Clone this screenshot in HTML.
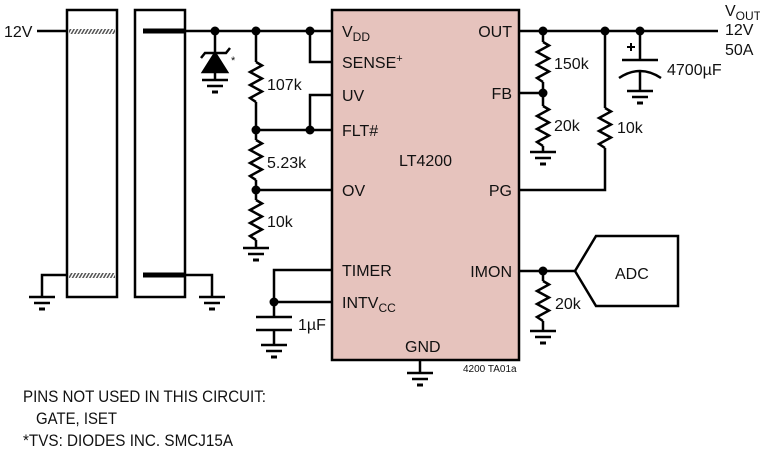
<!DOCTYPE html>
<html><head><meta charset="utf-8"><style>
html,body{margin:0;padding:0;background:#fff;}
svg{display:block}
text{font-family:"Liberation Sans Narrow","Liberation Sans",sans-serif;fill:#111}
</style></head><body>
<svg width="760" height="451" viewBox="0 0 760 451" xmlns="http://www.w3.org/2000/svg">
<defs>
<pattern id="h" width="3" height="6" patternUnits="userSpaceOnUse" patternTransform="rotate(30)"><rect width="1.5" height="6" fill="#555"/></pattern>
<g id="gnd" stroke="#000" stroke-width="2.5" fill="none"><line x1="-13" y1="0" x2="13" y2="0"/><line x1="-8" y1="6" x2="8" y2="6"/><line x1="-3" y1="12" x2="3" y2="12" stroke-width="3"/></g>
<path id="res" d="M0,0 L6,3.5 L-6,10 L6,16.5 L-6,23 L6,29.5 L-6,36 L0,40" stroke="#000" stroke-width="2.5" fill="none"/>
</defs>
<g stroke="#000" stroke-width="2.5" fill="none">
<rect x="67" y="10" width="50" height="287"/>
<rect x="135" y="10" width="50" height="287"/>
<rect x="69" y="29" width="46" height="5" fill="url(#h)" stroke="none"/>
<rect x="69" y="273" width="46" height="5" fill="url(#h)" stroke="none"/>
<line x1="37" y1="31" x2="67" y2="31"/>
<line x1="143" y1="31" x2="185" y2="31" stroke-width="5"/>
<line x1="143" y1="275" x2="185" y2="275" stroke-width="5"/>
<polyline points="67,275 42,275 42,297"/>
<polyline points="185,275 212,275 212,297"/>
<line x1="185" y1="31" x2="332" y2="31"/>
<polyline points="310,31 310,62 332,62"/>
<line x1="256" y1="31" x2="256" y2="62"/>
<line x1="256" y1="102" x2="256" y2="140"/>
<line x1="256" y1="130" x2="332" y2="130"/>
<polyline points="310,130 310,95 332,95"/>
<line x1="256" y1="180" x2="256" y2="200"/>
<line x1="256" y1="190" x2="332" y2="190"/>
<line x1="256" y1="240" x2="256" y2="248"/>
<line x1="215" y1="31" x2="215" y2="80"/>
<polyline points="201,58 205,53 226,53 230,48"/>
<polygon points="215,53 203,72 227,72" fill="#000"/>
<line x1="519" y1="31" x2="718" y2="31"/>
<line x1="543" y1="31" x2="543" y2="42"/>
<line x1="543" y1="82" x2="543" y2="106"/>
<line x1="519" y1="93" x2="543" y2="93"/>
<line x1="543" y1="146" x2="543" y2="152"/>
<line x1="605" y1="31" x2="605" y2="108"/>
<polyline points="605,148 605,190 519,190"/>
<line x1="640" y1="31" x2="640" y2="60"/>
<line x1="622" y1="60" x2="658" y2="60"/>
<path d="M619,78 Q640,64 661,78"/>
<line x1="640" y1="70" x2="640" y2="91"/>
<line x1="627" y1="47" x2="635" y2="47" stroke-width="2"/><line x1="631" y1="43" x2="631" y2="51" stroke-width="2"/>
<line x1="519" y1="271" x2="575" y2="271"/>
<line x1="543" y1="271" x2="543" y2="281"/>
<line x1="543" y1="321" x2="543" y2="331"/>
<polygon points="575,271 596,236 678,236 678,306 596,306"/>
<polyline points="332,270 274,270 274,317"/>
<line x1="274" y1="302" x2="332" y2="302"/>
<line x1="256" y1="317" x2="292" y2="317"/>
<line x1="256" y1="330" x2="292" y2="330"/>
<line x1="274" y1="330" x2="274" y2="345"/>
<line x1="420" y1="360" x2="420" y2="373"/>
</g>
<rect x="332" y="10" width="187" height="350" fill="#e6c3bd" stroke="#000" stroke-width="2.5"/>
<use href="#res" x="256" y="62"/>
<use href="#res" x="256" y="140"/>
<use href="#res" x="256" y="200"/>
<use href="#res" x="543" y="42"/>
<use href="#res" x="543" y="106"/>
<use href="#res" x="605" y="108"/>
<use href="#res" x="543" y="281"/>
<use href="#gnd" x="42" y="297"/>
<use href="#gnd" x="212" y="297"/>
<use href="#gnd" x="215" y="80"/>
<use href="#gnd" x="256" y="248"/>
<use href="#gnd" x="543" y="152"/>
<use href="#gnd" x="640" y="91"/>
<use href="#gnd" x="543" y="331"/>
<use href="#gnd" x="274" y="345"/>
<use href="#gnd" x="420" y="373"/>
<g fill="#000">
<circle cx="215" cy="31" r="4.5"/><circle cx="256" cy="31" r="4.5"/><circle cx="310" cy="31" r="4.5"/>
<circle cx="256" cy="130" r="4.5"/><circle cx="310" cy="130" r="4.5"/><circle cx="256" cy="190" r="4.5"/>
<circle cx="543" cy="31" r="4.5"/><circle cx="605" cy="31" r="4.5"/><circle cx="640" cy="31" r="4.5"/>
<circle cx="543" cy="93" r="4.5"/><circle cx="543" cy="271" r="4.5"/><circle cx="274" cy="302" r="4.5"/>
</g>
<g font-size="16">
<text x="4" y="37">12V</text>
<text x="231" y="64" font-size="11">*</text>
<text x="267" y="90">107k</text>
<text x="267" y="168">5.23k</text>
<text x="267" y="227">10k</text>
<text x="342" y="37">V<tspan font-size="12" dy="4">DD</tspan></text>
<text x="342" y="68">SENSE<tspan font-size="11" dy="-6">+</tspan></text>
<text x="342" y="101">UV</text>
<text x="342" y="136">FLT#</text>
<text x="399" y="166">LT4200</text>
<text x="342" y="196">OV</text>
<text x="342" y="276">TIMER</text>
<text x="342" y="308">INTV<tspan font-size="12" dy="4">CC</tspan></text>
<text x="405" y="352">GND</text>
<text x="512" y="37" text-anchor="end">OUT</text>
<text x="512" y="99" text-anchor="end">FB</text>
<text x="512" y="196" text-anchor="end">PG</text>
<text x="512" y="277" text-anchor="end">IMON</text>
<text x="554" y="69">150k</text>
<text x="554" y="131">20k</text>
<text x="617" y="133">10k</text>
<text x="667" y="75">4700µF</text>
<text x="725" y="16">V<tspan font-size="12" dy="4">OUT</tspan></text>
<text x="725" y="35">12V</text>
<text x="725" y="55">50A</text>
<text x="615" y="279">ADC</text>
<text x="555" y="309">20k</text>
<text x="298" y="330">1µF</text>
<text x="463" y="372" font-size="10">4200 TA01a</text>
<text x="23" y="402" font-size="17" textLength="243" lengthAdjust="spacingAndGlyphs">PINS NOT USED IN THIS CIRCUIT:</text>
<text x="36" y="424" font-size="17" textLength="81" lengthAdjust="spacingAndGlyphs">GATE, ISET</text>
<text x="23" y="446" font-size="17" textLength="210" lengthAdjust="spacingAndGlyphs">*TVS: DIODES INC. SMCJ15A</text>
</g>
</svg>
</body></html>
